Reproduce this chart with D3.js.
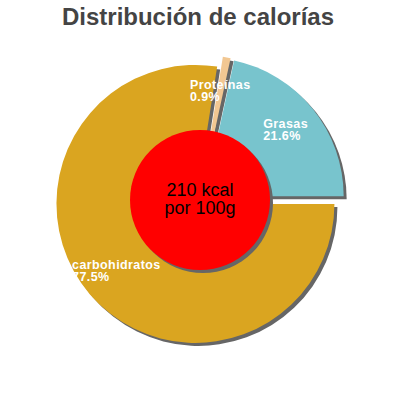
<!DOCTYPE html>
<html>
<head>
<meta charset="utf-8">
<script src="https://cdn.jsdelivr.net/npm/d3@7"></script>
<style>
  html, body { margin: 0; padding: 0; background: #fff; }
  svg { display: block; font-family: "Liberation Sans", Arial, sans-serif; }
</style>
</head>
<body>
<script>
// order as drawn clockwise from 3 o'clock
const names = ["carbohidratos", "Proteínas", "Grasas"];
const values = [77.5, 0.9, 21.6];
const colors = ["#DAA520", "#F2C792", "#78C4CD"];
const centerLines = ["210 kcal", "por 100g"];
const title = "Distribución de calorías";

const width = 400, height = 400;
const cx = 200, cy = 200;
const radius = 139, hole = 70, explode = 6;

const svg = d3.select("body").append("svg")
  .attr("width", width)
  .attr("height", height)
  .attr("viewBox", `0 0 ${width} ${height}`);

svg.append("text")
  .attr("x", 198)
  .attr("y", 25)
  .attr("text-anchor", "middle")
  .attr("font-size", 24)
  .attr("font-weight", "bold")
  .attr("fill", "#444")
  .text(title);

const pie = d3.pie().sort(null)
  .startAngle(Math.PI / 2)
  .endAngle(Math.PI / 2 + 2 * Math.PI);
const arcs = pie(values);

const arc = d3.arc().innerRadius(0).outerRadius(radius);
const labelArc = d3.arc().innerRadius(104).outerRadius(104);

function shift(d) {
  const a = (d.startAngle + d.endAngle) / 2;
  return [Math.sin(a) * explode, -Math.cos(a) * explode];
}

const g = svg.append("g").attr("transform", `translate(${cx},${cy})`);

// shadows first, so every slice sits above all of them
g.append("g").selectAll("path")
  .data(arcs)
  .join("path")
  .attr("d", arc)
  .attr("fill", "#666")
  .attr("transform", d => { const s = shift(d); return `translate(${s[0] + 3},${s[1] + 3})`; });

g.append("g").selectAll("path")
  .data(arcs)
  .join("path")
  .attr("d", arc)
  .attr("fill", (d, i) => colors[i])
  .attr("transform", d => { const s = shift(d); return `translate(${s[0]},${s[1]})`; });

// labels: two left aligned lines, block centred on the centroid
const labels = g.append("g").selectAll("g")
  .data(arcs)
  .join("g");

labels.each(function(d, i) {
  const c = labelArc.centroid(d);
  const s = shift(d);
  const px = c[0] + s[0], py = c[1] + s[1];
  const t = d3.select(this).append("text")
    .attr("fill", "#fff")
    .attr("font-size", 12.5)
    .attr("letter-spacing", 0.4)
    .attr("font-weight", "bold");
  const l1 = t.append("tspan").attr("y", py - 2.5).text(names[i]);
  const l2 = t.append("tspan").attr("y", py + 9.5).text(values[i] + "%");
  const w = Math.max(l1.node().getComputedTextLength(), l2.node().getComputedTextLength());
  l1.attr("x", px - w / 2);
  l2.attr("x", px - w / 2);
});

// centre disc
g.append("circle")
  .attr("r", hole)
  .attr("cx", 3).attr("cy", 3)
  .attr("fill", "#666");
g.append("circle")
  .attr("r", hole)
  .attr("fill", "#FF0000");

g.append("text")
  .attr("text-anchor", "middle")
  .attr("font-size", 18)
  .attr("fill", "#000")
  .selectAll("tspan")
  .data(centerLines)
  .join("tspan")
  .attr("x", 0)
  .attr("y", (d, i) => -4 + i * 18)
  .text(d => d);
</script>
</body>
</html>
